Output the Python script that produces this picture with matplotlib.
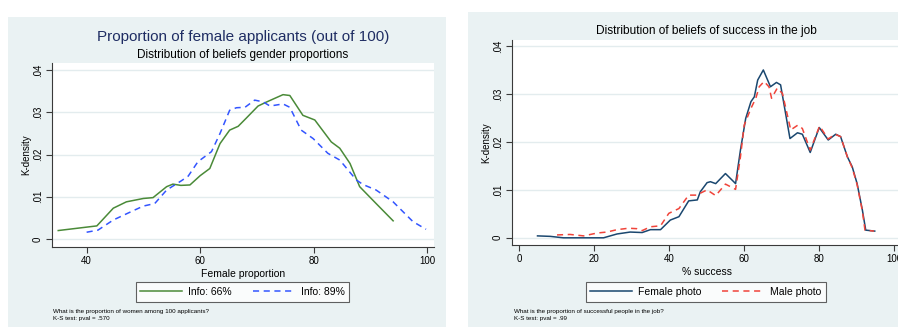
import numpy as np
import matplotlib.pyplot as plt
from matplotlib.patches import Rectangle

plt.rcParams['font.family'] = ['Liberation Sans', 'DejaVu Sans']

# ---- data ----
# Left panel: beliefs on proportion of female applicants
info66_x = [35.0, 41.8, 44.7, 47.0, 50.0, 51.7, 54.1, 55.2, 56.6, 58.2, 60.0, 61.7, 63.5,
            65.2, 66.7, 68.1, 70.2, 71.6, 74.6, 75.8, 78.1, 80.2, 83.1, 84.6, 86.4, 88.1,
            91.0, 94.0]
info66_y = [0.0020, 0.0031, 0.0073, 0.0088, 0.0096, 0.0098, 0.0124, 0.0130, 0.0127, 0.0128,
            0.0150, 0.0167, 0.0226, 0.0258, 0.0267, 0.0286, 0.0315, 0.0324, 0.0342, 0.0340,
            0.0293, 0.0282, 0.0230, 0.0215, 0.0179, 0.0124, 0.0084, 0.0043]

info89_x = [40.0, 42.0, 44.7, 48.2, 50.0, 52.0, 54.1, 56.7, 57.9, 59.6, 62.0, 63.5, 65.2,
            66.4, 67.9, 69.6, 71.1, 72.3, 74.6, 75.8, 77.8, 79.9, 82.5, 84.6, 87.5, 88.7,
            91.0, 94.0, 97.5, 99.8]
info89_y = [0.0016, 0.0021, 0.0045, 0.0067, 0.0078, 0.0084, 0.0116, 0.0138, 0.0149, 0.0183,
            0.0207, 0.0250, 0.0305, 0.0311, 0.0312, 0.0329, 0.0325, 0.0315, 0.0320, 0.0312,
            0.0258, 0.0238, 0.0203, 0.0187, 0.0140, 0.0129, 0.0116, 0.0088, 0.0041, 0.0023]

# Right panel: beliefs of success in the job
female_x = [4.9, 8.3, 11.8, 17.2, 22.5, 26.1, 29.6, 32.8, 35.0, 37.7, 40.3, 42.6, 45.2, 47.5,
            48.3, 50.1, 51.0, 52.4, 55.0, 57.2, 57.7, 59.0, 60.4, 61.8, 62.7, 63.6, 65.1,
            67.0, 68.6, 69.7, 72.2, 74.2, 75.5, 77.6, 80.0, 82.4, 84.4, 85.7, 87.5, 88.8,
            90.1, 91.5, 92.4, 94.8]
female_y = [0.0004, 0.0003, 0.0000, 0.0000, 0.0000, 0.0008, 0.0012, 0.0011, 0.0017, 0.0017,
            0.0037, 0.0044, 0.0077, 0.0079, 0.0096, 0.0115, 0.0117, 0.0113, 0.0134, 0.0117,
            0.0113, 0.0183, 0.0249, 0.0284, 0.0294, 0.0329, 0.0350, 0.0315, 0.0324, 0.0319,
            0.0207, 0.0219, 0.0216, 0.0178, 0.0230, 0.0204, 0.0216, 0.0211, 0.0169, 0.0148,
            0.0113, 0.0058, 0.0016, 0.0014]

male_x = [10.1, 13.6, 17.2, 20.8, 23.4, 26.1, 29.2, 31.4, 32.8, 35.0, 37.7, 39.9, 42.6, 45.2,
          47.5, 48.3, 50.1, 52.4, 55.0, 57.2, 57.7, 59.0, 60.0, 61.8, 63.1, 64.0, 65.3, 66.6,
          67.3, 68.8, 70.2, 72.4, 74.3, 75.5, 77.6, 80.1, 82.4, 84.2, 85.7, 87.5, 88.8, 90.1,
          91.5, 92.2, 94.6]
male_y = [0.0006, 0.0007, 0.0004, 0.0010, 0.0012, 0.0017, 0.0020, 0.0019, 0.0015, 0.0023,
          0.0025, 0.0051, 0.0061, 0.0089, 0.0089, 0.0093, 0.0100, 0.0088, 0.0112, 0.0103,
          0.0101, 0.0169, 0.0235, 0.0270, 0.0291, 0.0315, 0.0326, 0.0315, 0.0291, 0.0312,
          0.0301, 0.0225, 0.0235, 0.0228, 0.0183, 0.0233, 0.0206, 0.0216, 0.0211, 0.0169,
          0.0146, 0.0111, 0.0056, 0.0016, 0.0014]

BG = '#EAF2F3'
GRID = '#E3ECEE'
AX = '#3a3a3a'

fig = plt.figure(figsize=(8.98, 3.27), dpi=100, facecolor='white')

# Stata-like graph regions, kept behind the axes
fig.patches.append(Rectangle((8/898, 0), 438/898, 310/327, transform=fig.transFigure,
                             facecolor=BG, edgecolor='none', zorder=-10))
fig.patches.append(Rectangle((468/898, 0), 440/898, 315/327, transform=fig.transFigure,
                             facecolor=BG, edgecolor='none', zorder=-10))


def style_axes(ax, xticks, xlim, ylim):
    ax.set_facecolor('white')
    for s in ['top', 'right']:
        ax.spines[s].set_visible(False)
    for s in ['left', 'bottom']:
        ax.spines[s].set_color(AX)
        ax.spines[s].set_linewidth(0.8)
    ax.set_xlim(*xlim)
    ax.set_ylim(*ylim)
    ax.set_xticks(xticks)
    ax.set_yticks([0, 0.01, 0.02, 0.03, 0.04])
    ax.set_yticklabels(['0', '.01', '.02', '.03', '.04'], rotation=90, va='center')
    ax.tick_params(axis='both', direction='out', length=4.5, width=0.8, color=AX,
                   labelsize=7, pad=2)
    ax.grid(True, axis='y', color=GRID, lw=1.0)
    ax.set_axisbelow(True)
    ax.set_ylabel('K-density', fontsize=7, labelpad=1)


def add_legend(ax, cx):
    leg = ax.legend(loc='center', bbox_to_anchor=(cx/898, 1 - 292/327),
                    bbox_transform=fig.transFigure, ncol=2, fontsize=7.5, frameon=True,
                    fancybox=False, edgecolor=AX, handlelength=4.0, handletextpad=0.6,
                    columnspacing=2.0, borderpad=0.45)
    leg.get_frame().set_linewidth(0.8)
    return leg


# ---- left panel ----
ax1 = fig.add_axes([52/898, 80/327, 382/898, 184/327])
style_axes(ax1, [40, 60, 80, 100], (33.9, 101.2), (-0.0019, 0.0417))
ax1.plot(info66_x, info66_y, color='#4A8A38', lw=1.1, label='Info: 66%')
ax1.plot(info89_x, info89_y, color='#3355FF', lw=1.1, dashes=(4, 3), label='Info: 89%')
ax1.set_xlabel('Female proportion', fontsize=7.5, labelpad=2)
fig.text(243/898, 1 - 37/327, 'Proportion of female applicants (out of 100)',
         ha='center', va='center', fontsize=11, color='#1F2D63')
fig.text(243/898, 1 - 55/327, 'Distribution of beliefs gender proportions',
         ha='center', va='center', fontsize=8.5, color='black')
add_legend(ax1, 242.5)
fig.text(53/898, 1 - 312/327, 'What is the proportion of women among 100 applicants?',
         ha='left', va='center', fontsize=4.5)
fig.text(53/898, 1 - 318.5/327, 'K-S test: pval = .570', ha='left', va='center', fontsize=4.5)

# ---- right panel ----
ax2 = fig.add_axes([512/898, 82/327, 389/898, 205/327])
style_axes(ax2, [0, 20, 40, 60, 80, 100], (-1.9, 101.8), (-0.0015, 0.04125))
ax2.plot(female_x, female_y, color='#1A476F', lw=1.1, label='Female photo')
ax2.plot(male_x, male_y, color='#F0443A', lw=1.1, dashes=(4, 3), label='Male photo')
ax2.set_xlabel('% success', fontsize=7.5, labelpad=2)
fig.text(706/898, 1 - 31/327, 'Distribution of beliefs of success in the job',
         ha='center', va='center', fontsize=8.6, color='black')
add_legend(ax2, 706)
fig.text(514/898, 1 - 312/327, 'What is the proportion of successful people in the job?',
         ha='left', va='center', fontsize=4.5)
fig.text(514/898, 1 - 318.5/327, 'K-S test: pval = .99', ha='left', va='center', fontsize=4.5)

fig.savefig('out.png', dpi=100, facecolor='white')
